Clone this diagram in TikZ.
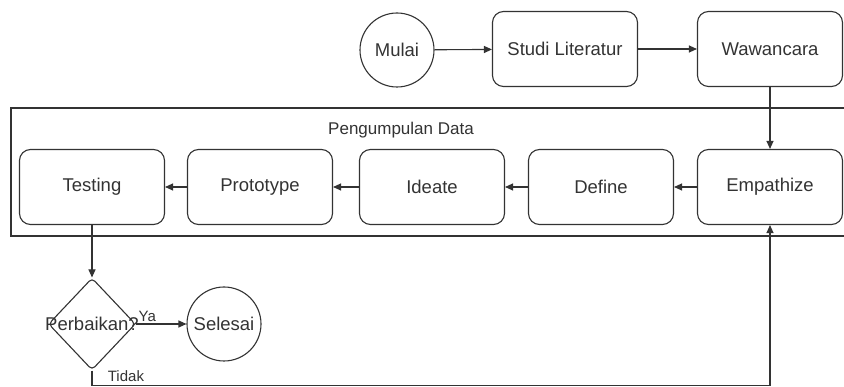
\documentclass[tikz,border=0pt]{standalone}
\usepackage{fontspec}
\setmainfont{Liberation Sans}
\usetikzlibrary{arrows.meta,shapes.geometric}

\begin{document}
\begin{tikzpicture}[x=1pt,y=-1pt,line width=1.1pt,color=black!80,
  every node/.style={font=\fontsize{18.5}{22}\selectfont},
  box/.style={draw,rounded corners=11pt,minimum width=145pt,minimum height=75pt,inner sep=0pt},
  terminal/.style={draw,circle,minimum size=74pt,inner sep=0pt},
  decision/.style={draw,diamond,rounded corners=4pt,minimum width=87pt,minimum height=92pt,inner sep=0pt},
  arr/.style={-{Triangle[length=8pt,width=7pt]}},
  lbl/.style={font=\fontsize{15}{18}\selectfont}]
\useasboundingbox (0,0) rectangle (844,387);
% top row
\node[terminal] (mulai) at (397,50) {Mulai};
\node[box] (studi) at (565,49) {Studi Literatur};
\node[box] (wawancara) at (770,49) {Wawancara};
% container
\draw (845,108) -- (11,108) -- (11,236) -- (845,236);
\node (judul) at (401,130) {\fontsize{17}{20}\selectfont Pengumpulan Data};
\node[box] (testing) at (92,187) {Testing};
\node[box] (prototype) at (260,187) {Prototype};
\node[box] (ideate) at (432,187) {Ideate};
\node[box] (define) at (601,187) {Define};
\node[box] (empathize) at (770,187) {Empathize};
% bottom
\node[decision] (perbaikan) at (92,324) {\makebox[0pt]{Perbaikan?}};
\node[terminal] (selesai) at (224,324) {Selesai};
% connectors
\draw[arr] (mulai) -- (studi);
\draw[arr] (studi) -- (wawancara);
\draw[arr] (wawancara) -- (empathize);
\draw[arr] (empathize) -- (define);
\draw[arr] (define) -- (ideate);
\draw[arr] (ideate) -- (prototype);
\draw[arr] (prototype) -- (testing);
\draw[arr] (testing) -- (perbaikan);
\draw[arr] (perbaikan) -- node[lbl,above right,pos=0,inner sep=2pt]{Ya} (selesai);
\draw[arr] (perbaikan.south) -- ++(0,15) node[lbl,above right,xshift=12pt]{Tidak} -| (empathize.south);
\end{tikzpicture}
\end{document}
